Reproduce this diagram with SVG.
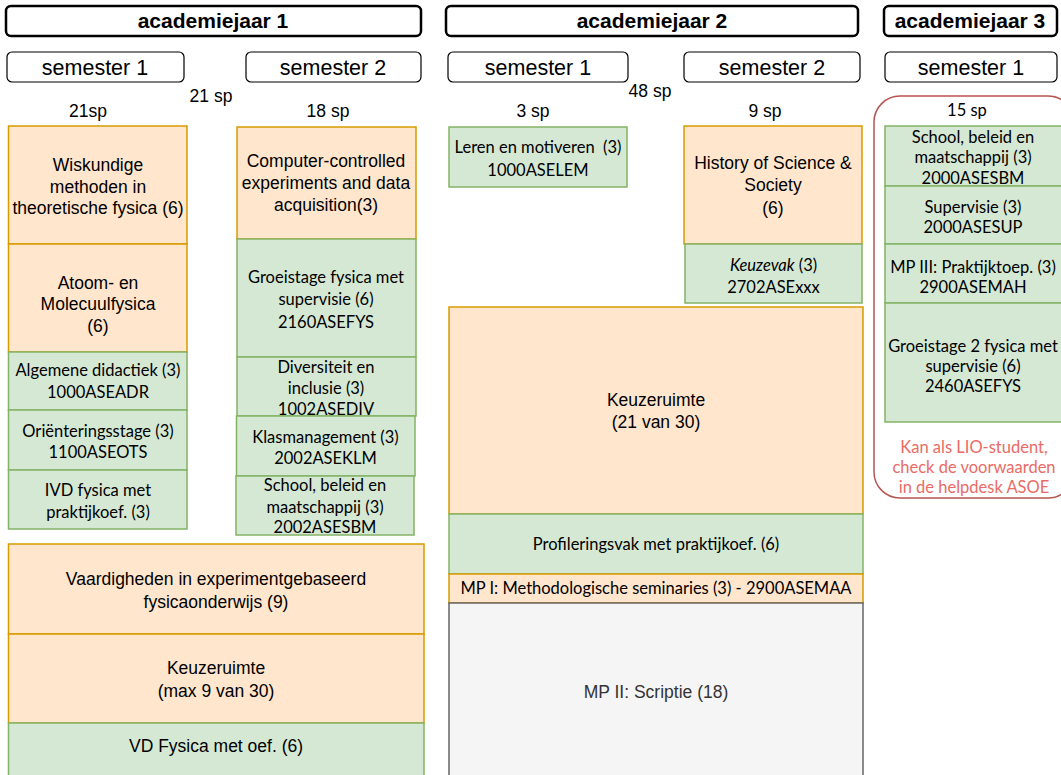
<svg xmlns="http://www.w3.org/2000/svg" width="1061" height="775" viewBox="0 0 1061 775">
<style>
.hdr{fill:#fff;stroke:#000;stroke-width:2.5}
.sem{fill:#fff;stroke:#000;stroke-width:1.2}
.o{fill:#ffe6cc;stroke:#d79b00;stroke-width:1.5}
.g{fill:#d5e8d4;stroke:#82b366;stroke-width:1.5}
.gr{fill:#f5f5f5;stroke:#666;stroke-width:1.5}
.red{fill:none;stroke:#b85450;stroke-width:1.5}
text{text-anchor:middle;fill:#000}
.h{font-family:"Liberation Sans",Arial,sans-serif;font-weight:bold;font-size:21px}
.s{font-family:"Liberation Sans",Arial,sans-serif;font-size:21.5px}
.a{font-family:"Liberation Sans",Arial,sans-serif;font-size:17.5px}
.c{font-family:Lato,"Open Sans",sans-serif;font-size:16.5px;white-space:pre}
.gt{fill:#333}
.rt{fill:#ea6b66}
</style>

<g id="headers">
<g id="jaar1"><rect class="hdr" x="6" y="6" width="415" height="30" rx="5"/><text class="h" x="213" y="28">academiejaar 1</text></g>
<g id="jaar2"><rect class="hdr" x="446" y="6" width="412" height="30" rx="5"/><text class="h" x="652" y="28">academiejaar 2</text></g>
<g id="jaar3"><rect class="hdr" x="884" y="6" width="173" height="30" rx="5"/><text class="h" x="970" y="28">academiejaar 3</text></g>
<g id="sem11"><rect class="sem" x="7" y="52" width="177" height="30" rx="5"/><text class="s" x="95" y="75">semester 1</text></g>
<g id="sem12"><rect class="sem" x="246" y="52" width="175" height="30" rx="5"/><text class="s" x="333" y="75">semester 2</text></g>
<g id="sem21"><rect class="sem" x="448" y="52" width="180" height="30" rx="5"/><text class="s" x="538" y="75">semester 1</text></g>
<g id="sem22"><rect class="sem" x="684" y="52" width="176" height="30" rx="5"/><text class="s" x="772" y="75">semester 2</text></g>
<g id="sem31"><rect class="sem" x="885" y="52" width="172" height="30" rx="5"/><text class="s" x="971" y="75">semester 1</text></g>
</g>

<g id="credits">
<text class="a" x="211" y="102">21 sp</text>
<text class="a" x="88" y="117">21sp</text>
<text class="a" x="328" y="117">18 sp</text>
<text class="a" x="650" y="97">48 sp</text>
<text class="a" x="533" y="117">3 sp</text>
<text class="a" x="765" y="117">9 sp</text>
</g>

<g id="lio">
<rect class="red" x="874" y="96" width="200" height="402" rx="26"/>
<text class="c" x="967" y="116">15 sp</text>
<text class="c rt" x="974" y="453">Kan als LIO-student,</text>
<text class="c rt" x="974" y="473">check de voorwaarden</text>
<text class="c rt" x="974" y="493">in de helpdesk ASOE</text>
</g>

<g id="wiskundige"><rect class="o" x="8.5" y="126" width="178.5" height="118"/>
<text class="a" x="98" y="171">Wiskundige</text><text class="a" x="98" y="193">methoden in</text><text class="a" x="98" y="214">theoretische fysica (6)</text></g>
<g id="atoom"><rect class="o" x="8.5" y="244" width="178.5" height="108"/>
<text class="a" x="98" y="289">Atoom- en</text><text class="a" x="98" y="310">Molecuulfysica</text><text class="a" x="98" y="332">(6)</text></g>
<g id="algemene"><rect class="g" x="8.5" y="352" width="178.5" height="58"/>
<text class="c" x="98" y="376">Algemene didactiek (3)</text><text class="c" x="98" y="398">1000ASEADR</text></g>
<g id="orientering"><rect class="g" x="8.5" y="410" width="178.5" height="60"/>
<text class="c" x="98" y="437">Oriënteringsstage (3)</text><text class="c" x="98" y="458">1100ASEOTS</text></g>
<g id="ivd"><rect class="g" x="8.5" y="470" width="178.5" height="59"/>
<text class="c" x="98" y="496">IVD fysica met</text><text class="c" x="98" y="518">praktijkoef. (3)</text></g>

<g id="computer"><rect class="o" x="237" y="127" width="179" height="112"/>
<text class="a" x="326" y="167">Computer-controlled</text><text class="a" x="326" y="189">experiments and data</text><text class="a" x="326" y="211">acquisition(3)</text></g>
<g id="groeistage"><rect class="g" x="237" y="239" width="179" height="118"/>
<text class="c" x="326" y="283">Groeistage fysica met</text><text class="c" x="326" y="305">supervisie (6)</text><text class="c" x="326" y="328">2160ASEFYS</text></g>
<g id="diversiteit"><rect class="g" x="237" y="357" width="179" height="59"/>
<text class="c" x="326" y="373">Diversiteit en</text><text class="c" x="326" y="394">inclusie (3)</text><text class="c" x="326" y="415">1002ASEDIV</text></g>
<g id="klas"><rect class="g" x="236.5" y="416" width="178.5" height="60"/>
<text class="c" x="325.5" y="443">Klasmanagement (3)</text><text class="c" x="325.5" y="464">2002ASEKLM</text></g>
<g id="school1"><rect class="g" x="236" y="476" width="178" height="59"/>
<text class="c" x="325" y="491">School, beleid en</text><text class="c" x="325" y="513">maatschappij (3)</text><text class="c" x="325" y="533">2002ASESBM</text></g>

<g id="vaardigheden"><rect class="o" x="8.5" y="544" width="415.5" height="90"/>
<text class="a" x="216" y="585">Vaardigheden in experimentgebaseerd</text><text class="a" x="216" y="608">fysicaonderwijs (9)</text></g>
<g id="keuze1"><rect class="o" x="8.5" y="634" width="415.5" height="89"/>
<text class="a" x="216" y="674">Keuzeruimte</text><text class="a" x="216" y="697">(max 9 van 30)</text></g>
<g id="vd"><rect class="g" x="8.5" y="723" width="415.5" height="60"/>
<text class="a" x="216" y="752">VD Fysica met oef. (6)</text></g>

<g id="leren"><rect class="g" x="449" y="127" width="178" height="60"/>
<text class="c" x="538" y="153">Leren en motiveren  (3)</text><text class="c" x="538" y="176">1000ASELEM</text></g>
<g id="history"><rect class="o" x="684" y="126" width="178" height="118"/>
<text class="a" x="773" y="169">History of Science &amp;</text><text class="a" x="773" y="191">Society</text><text class="a" x="773" y="214">(6)</text></g>
<g id="keuzevak"><rect class="g" x="685" y="244" width="177" height="59"/>
<text class="c" x="773.5" y="271"><tspan font-style="italic">Keuzevak</tspan> (3)</text><text class="c" x="773.5" y="293">2702ASExxx</text></g>
<g id="keuze2"><rect class="o" x="449" y="307" width="414" height="207"/>
<text class="a" x="656" y="406">Keuzeruimte</text><text class="a" x="656" y="428">(21 van 30)</text></g>
<g id="profilering"><rect class="g" x="449" y="514" width="414" height="60"/>
<text class="c" x="656" y="550">Profileringsvak met praktijkoef. (6)</text></g>
<g id="mp1"><rect class="o" x="449" y="574" width="414" height="29"/>
<text class="c" x="656" y="594">MP I: Methodologische seminaries (3) - 2900ASEMAA</text></g>
<g id="mp2"><rect class="gr" x="449" y="603" width="414" height="180"/>
<text class="a gt" x="656" y="698">MP II: Scriptie (18)</text></g>

<g id="school3"><rect class="g" x="885" y="126" width="180" height="60"/>
<text class="c" x="973" y="143">School, beleid en</text><text class="c" x="973" y="163">maatschappij (3)</text><text class="c" x="973" y="184">2000ASESBM</text></g>
<g id="supervisie"><rect class="g" x="885" y="186" width="180" height="58"/>
<text class="c" x="973" y="213">Supervisie (3)</text><text class="c" x="973" y="233">2000ASESUP</text></g>
<g id="mp3"><rect class="g" x="885" y="244" width="180" height="59"/>
<text class="c" x="973" y="273">MP III: Praktijktoep. (3)</text><text class="c" x="973" y="293">2900ASEMAH</text></g>
<g id="groeistage2"><rect class="g" x="885" y="303" width="180" height="119"/>
<text class="c" x="973" y="352">Groeistage 2 fysica met</text><text class="c" x="973" y="372">supervisie (6)</text><text class="c" x="973" y="392">2460ASEFYS</text></g>

<g id="connectors"></g>
</svg>
